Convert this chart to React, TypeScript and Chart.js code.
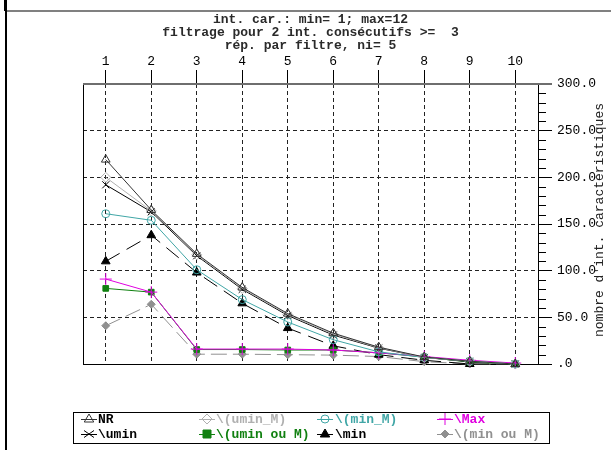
import React, { useEffect, useRef } from 'react';
import { Chart, registerables } from 'chart.js';

Chart.register(...registerables);

const categories = ['1', '2', '3', '4', '5', '6', '7', '8', '9', '10'];
const yTickValues = [0, 50, 100, 150, 200, 250, 300];

const nrValues = [219, 165, 118, 82, 54, 33, 18, 7.5, 3, 0];
const uminValues = [192, 163, 116, 80, 52, 31, 17, 7, 2.5, 0];
const uminMValues = [200, 164, 117, 81, 53, 32, 17.5, 7, 3, 0];
const minMValues = [161, 154, 101, 69, 45, 26, 13, 7, 3, 0];
const maxValues = [91, 77, 16, 16, 16, 15, 12, 8, 4, 1];
const uminOuMValues = [81, 77, 15.5, 15.5, 15, 15, 12, 7.5, 2, 0];
const minValues = [110, 138, 98, 65, 38.5, 19.5, 10, 4, 0, 0];
const minOuMValues = [41, 64, 10.5, 10.5, 10, 9.5, 8, 2.5, 0, 0];

const titleLines = [
  'int. car.: min= 1; max=12',
  'filtrage pour 2 int. consécutifs >=  3',
  'rép. par filtre, ni= 5',
];
const yAxisTitle = "nombre d'int. caractéristiques";

const FONT = "'Liberation Mono', 'DejaVu Sans Mono', monospace";

type SeriesDef = {
  label: string;
  data: number[];
  color: string;
  markerStyle: string;
  markerRadius: number;
  filled: boolean;
  dash: number[];
};

const series: SeriesDef[] = [
  { label: 'NR', data: nrValues, color: '#333333', markerStyle: 'triangle', markerRadius: 5, filled: false, dash: [] },
  { label: '\\(umin_M)', data: uminMValues, color: '#b0b0b0', markerStyle: 'rectRot', markerRadius: 5, filled: false, dash: [] },
  { label: '\\(min_M)', data: minMValues, color: '#40a6a6', markerStyle: 'circle', markerRadius: 4, filled: false, dash: [] },
  { label: '\\Max', data: maxValues, color: '#e000e0', markerStyle: 'cross', markerRadius: 6, filled: false, dash: [] },
  { label: '\\umin', data: uminValues, color: '#000000', markerStyle: 'crossRot', markerRadius: 5, filled: false, dash: [] },
  { label: '\\(umin ou M)', data: uminOuMValues, color: '#108010', markerStyle: 'rect', markerRadius: 4, filled: true, dash: [] },
  { label: '\\min', data: minValues, color: '#000000', markerStyle: 'triangle', markerRadius: 5, filled: true, dash: [16, 8] },
  { label: '\\(min ou M)', data: minOuMValues, color: '#909090', markerStyle: 'rectRot', markerRadius: 4, filled: true, dash: [16, 6] },
];

function drawMarker(ctx: CanvasRenderingContext2D, s: SeriesDef, x: number, y: number) {
  const r = s.markerRadius;
  ctx.save();
  ctx.strokeStyle = s.color;
  ctx.fillStyle = s.color;
  ctx.lineWidth = 1;
  ctx.setLineDash([]);
  ctx.beginPath();
  switch (s.markerStyle) {
    case 'triangle': {
      ctx.moveTo(x, y - r);
      ctx.lineTo(x + r * 0.95, y + r * 0.6);
      ctx.lineTo(x - r * 0.95, y + r * 0.6);
      ctx.closePath();
      break;
    }
    case 'rectRot': {
      ctx.moveTo(x, y - r);
      ctx.lineTo(x + r, y);
      ctx.lineTo(x, y + r);
      ctx.lineTo(x - r, y);
      ctx.closePath();
      break;
    }
    case 'circle': {
      ctx.arc(x, y, r, 0, Math.PI * 2);
      break;
    }
    case 'rect': {
      ctx.rect(x - r, y - r, 2 * r, 2 * r);
      break;
    }
    case 'cross': {
      ctx.moveTo(x - r, y);
      ctx.lineTo(x + r, y);
      ctx.moveTo(x, y - r);
      ctx.lineTo(x, y + r);
      break;
    }
    case 'crossRot': {
      ctx.moveTo(x - r, y - r * 0.7);
      ctx.lineTo(x + r, y + r * 0.7);
      ctx.moveTo(x - r, y + r * 0.7);
      ctx.lineTo(x + r, y - r * 0.7);
      break;
    }
  }
  if (s.filled) ctx.fill();
  ctx.stroke();
  ctx.restore();
}

const decorPlugin = {
  id: 'decor',
  beforeDatasetsDraw(chart: any) {
    const { ctx, chartArea } = chart;
    const { left, right, top, bottom } = chartArea;
    const yScale = chart.scales.y;
    ctx.save();
    ctx.setLineDash([]);
    ctx.lineWidth = 1;
    ctx.strokeStyle = '#000';
    ctx.beginPath();
    ctx.moveTo(Math.round(left) + 0.5, top);
    ctx.lineTo(Math.round(left) + 0.5, bottom);
    ctx.moveTo(left, Math.round(bottom) + 0.5);
    ctx.lineTo(right + 14, Math.round(bottom) + 0.5);
    ctx.moveTo(Math.round(right) + 0.5, top);
    ctx.lineTo(Math.round(right) + 0.5, bottom);
    ctx.stroke();
    ctx.strokeStyle = '#6e6e6e';
    ctx.lineWidth = 2;
    ctx.beginPath();
    ctx.moveTo(left, Math.round(top));
    ctx.lineTo(right + 14, Math.round(top));
    ctx.stroke();
    ctx.strokeStyle = '#000';
    ctx.lineWidth = 1;
    ctx.beginPath();
    for (let v = 10; v < 300; v += 10) {
      if (v % 50 === 0) continue;
      const py = Math.round(yScale.getPixelForValue(v)) + 0.5;
      ctx.moveTo(right, py);
      ctx.lineTo(right + 8, py);
    }
    ctx.stroke();
    ctx.restore();
  },
  afterDraw(chart: any) {
    const { ctx, chartArea } = chart;
    const { left, right, top, bottom } = chartArea;
    ctx.save();
    ctx.setLineDash([]);
    ctx.strokeStyle = '#000';
    ctx.lineWidth = 2;
    ctx.beginPath();
    ctx.moveTo(6, 0);
    ctx.lineTo(6, 450);
    ctx.stroke();
    ctx.lineWidth = 3;
    ctx.beginPath();
    ctx.moveTo(5.5, 0);
    ctx.lineTo(5.5, 11);
    ctx.stroke();
    ctx.strokeStyle = '#808080';
    ctx.lineWidth = 2;
    ctx.beginPath();
    ctx.moveTo(7, 11);
    ctx.lineTo(611, 11);
    ctx.stroke();

    const cx = (left + right) / 2;
    ctx.fillStyle = '#2a2a2a';
    ctx.font = `bold 13px ${FONT}`;
    ctx.textAlign = 'center';
    ctx.textBaseline = 'middle';
    const titleY = [20, 33, 46];
    titleLines.forEach((t, i) => ctx.fillText(t, cx, titleY[i]));

    ctx.save();
    ctx.translate(600, (top + bottom) / 2 - 4);
    ctx.rotate(-Math.PI / 2);
    ctx.font = `13px ${FONT}`;
    ctx.fillStyle = '#222';
    ctx.textAlign = 'center';
    ctx.textBaseline = 'middle';
    ctx.fillText(yAxisTitle, 0, 0);
    ctx.restore();

    const boxL = 73, boxT = 412, boxR = 549, boxB = 443;
    ctx.strokeStyle = '#000';
    ctx.lineWidth = 1;
    ctx.strokeRect(boxL + 0.5, boxT + 0.5, boxR - boxL, boxB - boxT);
    const markerX = [89, 207, 325, 445];
    const textX = [98, 216, 335, 454];
    const rowY = [419, 434];
    ctx.font = `bold 13px ${FONT}`;
    ctx.textAlign = 'left';
    ctx.textBaseline = 'middle';
    series.forEach((s, i) => {
      const col = i % 4;
      const row = Math.floor(i / 4);
      const mx = markerX[col];
      const my = rowY[row];
      ctx.save();
      ctx.strokeStyle = s.color;
      ctx.lineWidth = 1;
      ctx.beginPath();
      ctx.moveTo(mx - 8, my + 0.5);
      ctx.lineTo(mx + 8, my + 0.5);
      ctx.stroke();
      ctx.restore();
      drawMarker(ctx, s, mx, my);
      ctx.fillStyle = s.color === '#333333' ? '#000' : s.color;
      ctx.fillText(s.label, textX[col], my + 1);
    });
    ctx.restore();
  },
};

export default function App() {
  const ref = useRef<HTMLCanvasElement | null>(null);
  useEffect(() => {
    if (!ref.current) return;
    const chart = new Chart(ref.current, {
      type: 'line',
      data: {
        labels: categories,
        datasets: series.map((s) => ({
          label: s.label,
          data: s.data,
          borderColor: s.color,
          backgroundColor: s.filled ? s.color : 'rgba(255,255,255,0)',
          borderWidth: 1,
          borderDash: s.dash,
          pointStyle: s.markerStyle as any,
          pointRadius: s.markerRadius,
          pointBorderColor: s.color,
          pointBackgroundColor: s.filled ? s.color : 'rgba(255,255,255,0)',
          pointBorderWidth: 1,
          tension: 0,
          fill: false,
          clip: false as any,
        })),
      },
      options: {
        responsive: false,
        animation: false,
        layout: { padding: { top: 50, left: 83, right: 0, bottom: 86 } },
        plugins: {
          legend: { display: false },
          title: { display: false },
          tooltip: { enabled: false },
        },
        scales: {
          x: {
            type: 'category',
            position: 'top',
            offset: true,
            grid: {
              offset: false,
              color: '#222',
              lineWidth: 1,
              tickLength: 14,
              tickColor: '#000',
              tickBorderDash: [],
            },
            border: { display: false, dash: [4, 3] },
            ticks: {
              color: '#000',
              font: { family: FONT, size: 13 },
              padding: 1,
              maxRotation: 0,
              autoSkip: false,
            },
            afterFit: (s: any) => {
              s.height = 34;
            },
          },
          y: {
            type: 'linear',
            position: 'right',
            min: 0,
            max: 300,
            afterBuildTicks: (s: any) => {
              s.ticks = yTickValues.map((v) => ({ value: v }));
            },
            grid: {
              color: (c: any) =>
                c.tick && (c.tick.value === 0 || c.tick.value === 300) ? 'rgba(0,0,0,0)' : '#222',
              lineWidth: 1,
              tickLength: 14,
              tickColor: '#000',
              tickBorderDash: [],
            },
            border: { display: false, dash: [4, 3] },
            ticks: {
              color: '#000',
              font: { family: FONT, size: 13 },
              padding: 5,
              callback: (v: any) => (Number(v) === 0 ? '.0' : Number(v).toFixed(1)),
            },
            afterFit: (s: any) => {
              s.width = 73;
            },
          },
        },
      },
      plugins: [decorPlugin],
    } as any);
    return () => chart.destroy();
  }, []);
  return (
    <div style={{ position: 'absolute', left: 0, top: 0, width: 611, height: 450, background: '#fff' }}>
      <canvas ref={ref} width={611} height={450} />
    </div>
  );
}
